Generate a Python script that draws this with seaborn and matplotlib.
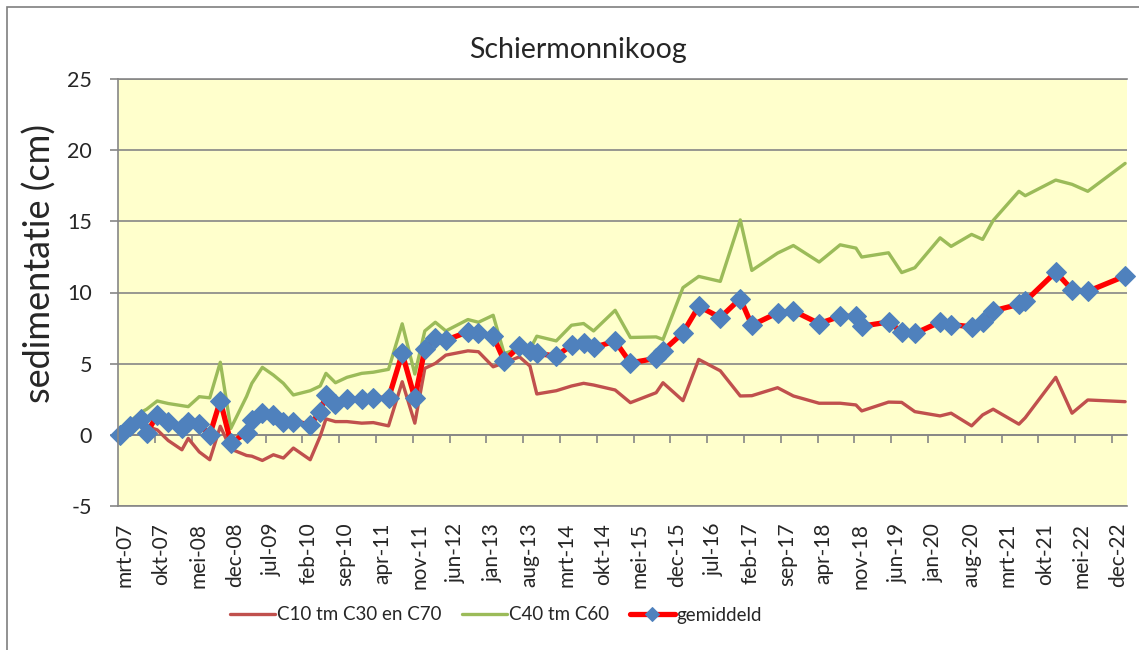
import matplotlib
matplotlib.use("Agg")
import matplotlib.pyplot as plt
from matplotlib.patches import Rectangle
import pandas as pd
import seaborn as sns

# maanden sinds begin van de as (mrt-07)
maand = [0.3, 2.3, 4.4, 5.4, 7.4, 9.5, 12.1, 13.3, 15.4, 17.4, 19.4, 21.4, 24.4, 25.4, 27.4,
         29.5, 31.4, 33.3, 36.5, 38.4, 39.5, 41.3, 43.5, 46.3, 48.5, 51.4, 54.0, 56.4, 58.3,
         60.3, 62.3, 66.5, 68.5, 71.3, 73.4, 76.3, 78.3, 79.6, 83.3, 86.2, 88.5, 90.4, 94.5,
         97.4, 102.3, 103.6, 107.4, 110.4, 114.5, 118.3, 120.5, 125.4, 128.4, 133.3, 137.3,
         140.3, 141.4, 146.5, 149.0, 151.5, 156.3, 158.4, 162.3, 164.4, 166.4, 171.3, 172.5,
         178.3, 181.4, 184.4, 191.5]

gemiddeld = [0.0, 0.6, 1.1, 0.1, 1.4, 0.93, 0.5, 0.9, 0.75, 0.0, 2.4, -0.55, 0.12, 1.05, 1.5,
             1.4, 0.93, 0.93, 0.7, 1.63, 2.8, 2.2, 2.5, 2.5, 2.57, 2.57, 5.72, 2.57, 6.0,
             6.77, 6.65, 7.24, 7.12, 6.93, 5.2, 6.23, 5.9, 5.72, 5.53, 6.3, 6.42, 6.14, 6.58,
             5.06, 5.37, 5.9, 7.17, 9.03, 8.24, 9.57, 7.7, 8.57, 8.71, 7.82, 8.33,
             8.33, 7.63, 7.93, 7.24, 7.12, 7.93, 7.75, 7.59, 7.93, 8.71, 9.17, 9.38,
             11.44, 10.2, 10.08, 11.16]

c40_c60 = [0.0, 0.95, 1.6, 1.8, 2.38, 2.2, 2.05, 1.98, 2.68, 2.6, 5.1, 0.45, 2.7, 3.62, 4.74,
           4.2, 3.62, 2.8, 3.1, 3.43, 4.32, 3.66, 4.04, 4.32, 4.4, 4.6, 7.8, 4.27, 7.3,
           7.91, 7.3, 8.1, 7.91, 8.4, 5.7, 6.1, 6.0, 6.93, 6.6, 7.7, 7.82, 7.3, 8.75,
           6.84, 6.88, 6.7, 10.34, 11.13, 10.78, 15.1, 11.55, 12.77, 13.3, 12.14, 13.35,
           13.12, 12.49, 12.79, 11.4, 11.74, 13.84, 13.24, 14.08, 13.73, 15.06, 17.11, 16.8,
           17.9, 17.6, 17.11, 19.07]

c10_c30_c70 = [0.0, 0.45, 0.9, 0.6, 0.35, -0.4, -1.05, -0.25, -1.2, -1.75, 0.6, -1.0, -1.45, -1.5, -1.8,
               -1.4, -1.63, -0.93, -1.75, -0.1, 1.12, 0.93, 0.93, 0.82, 0.86, 0.63, 3.73, 0.82, 4.67,
               5.02, 5.6, 5.9, 5.84, 4.78, 5.06, 5.48, 4.83, 2.87, 3.1, 3.43, 3.62, 3.5, 3.15,
               2.26, 2.96, 3.66, 2.4, 5.3, 4.5, 2.73, 2.75, 3.31, 2.73, 2.22, 2.22,
               2.1, 1.68, 2.3, 2.28, 1.63, 1.33, 1.52, 0.63, 1.4, 1.8, 0.75, 1.2,
               4.04, 1.52, 2.45, 2.33]

tick_labels = ["mrt-07", "okt-07", "mei-08", "dec-08", "jul-09", "feb-10", "sep-10", "apr-11",
               "nov-11", "jun-12", "jan-13", "aug-13", "mrt-14", "okt-14", "mei-15", "dec-15",
               "jul-16", "feb-17", "sep-17", "apr-18", "nov-18", "jun-19", "jan-20", "aug-20",
               "mrt-21", "okt-21", "mei-22", "dec-22"]
tick_pos = [7 * i for i in range(len(tick_labels))]

df = pd.DataFrame({"maand": maand, "gemiddeld": gemiddeld,
                   "C40 tm C60": c40_c60, "C10 tm C30 en C70": c10_c30_c70})

sns.set_style("white")
plt.rcParams["font.family"] = ["Lato", "DejaVu Sans"]
plt.rcParams["axes.unicode_minus"] = False
grey = "#868686"

W, H = 1139, 650
fig = plt.figure(figsize=(W / 100, H / 100), dpi=100)
ax = fig.add_axes([118.3 / W, 1 - 506 / H, (1126.7 - 118.3) / W, (506 - 79) / H])
ax.set_facecolor("#FFFFCC")

sns.lineplot(data=df, x="maand", y="C10 tm C30 en C70", ax=ax, color="#C0504D", lw=2.4,
             label="C10 tm C30 en C70", clip_on=False)
sns.lineplot(data=df, x="maand", y="C40 tm C60", ax=ax, color="#9BBB59", lw=2.4,
             label="C40 tm C60", clip_on=False)
sns.lineplot(data=df, x="maand", y="gemiddeld", ax=ax, color="#FF0000", lw=3.8,
             marker="D", markersize=10, markerfacecolor="#4F81BD", markeredgecolor="#4F81BD",
             label="gemiddeld", clip_on=False)

ax.set_xlim(0, 191.8)
ax.set_ylim(-5, 25)
ax.set_yticks(range(-5, 26, 5))
ax.grid(axis="y", color=grey, lw=1.2)
ax.set_axisbelow(True)
for s in ["top", "bottom", "left"]:
    ax.spines[s].set_color(grey)
    ax.spines[s].set_linewidth(1.2)
ax.spines["right"].set_visible(False)
ax.tick_params(axis="y", direction="out", length=6, width=1.2, color=grey, pad=13,
               labelsize=15.5, left=True)

# labels onderaan, zonder streepjes
ax.set_xticks([p + 1.2 for p in tick_pos])
ax.set_xticklabels(tick_labels, rotation=90, fontsize=15)
ax.tick_params(axis="x", length=0, pad=12)
ax.set_xlabel("")
ax.set_ylabel("")

# horizontale as op y = 0 met streepjes
sec = ax.secondary_xaxis(5 / 30)
sec.set_xticks(tick_pos)
sec.set_xticklabels([])
sec.tick_params(direction="out", length=6, width=1.2, color=grey)
sec.spines["bottom"].set_color(grey)
sec.spines["bottom"].set_linewidth(1.2)

ax.legend_.remove()
handles, labels = ax.get_legend_handles_labels()
fig.legend(handles, labels, loc="center", bbox_to_anchor=(0.4355, 1 - 615 / H), ncol=3,
           frameon=False, fontsize=13.5, handlelength=2.4, handletextpad=0.1,
           columnspacing=1.1, markerscale=0.75)

fig.text(578.5 / W, 1 - 50 / H, "Schiermonnikoog", ha="center", va="center", fontsize=20.5)
fig.text(40 / W, 1 - 264 / H, "sedimentatie (cm)", ha="center", va="center",
         rotation=90, fontsize=26)

fig.patches.append(Rectangle((7 / W, -0.1), 1.2, 1.1 - 7 / H, transform=fig.transFigure,
                             fill=False, edgecolor="#7F7F7F", lw=1.2))

fig.savefig("out.png", dpi=100, facecolor="white")
